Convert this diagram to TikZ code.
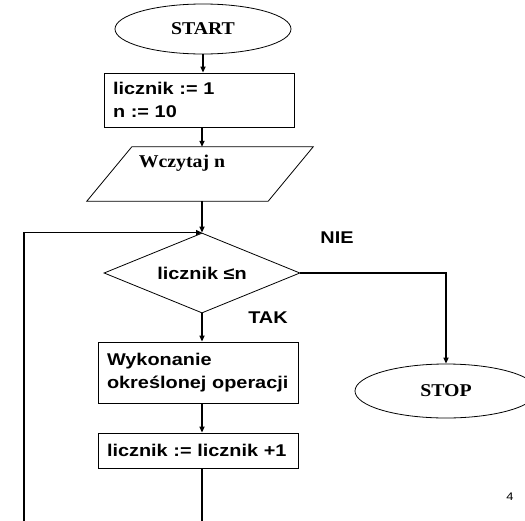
\documentclass[tikz,border=0pt]{standalone}
\usepackage{fontspec}
\newfontfamily\arialfont{Liberation Sans}[FakeStretch=1.17]
\newfontfamily\timesfont{Liberation Serif}[FakeStretch=1.1]
\usetikzlibrary{
  arrows.meta,
  shapes.geometric,
  calc
}

\begin{document}
\begin{tikzpicture}[
  x=1pt, y=-1pt,
  term/.style={
    draw, ellipse, line width=0.8pt, minimum width=176pt, minimum height=50pt,
    inner sep=0pt, font=\timesfont\bfseries\fontsize{18}{22}\selectfont,
  },
  proc/.style={
    draw, rectangle, line width=0.8pt, inner xsep=9pt, inner ysep=0pt, align=left,
    font=\arialfont\bfseries\fontsize{17}{23.5}\selectfont,
  },
  io/.style={
    rectangle, minimum width=181pt, minimum height=54pt, inner sep=0pt,
  },
  cond/.style={
    draw, diamond, shape aspect=2.45, line width=0.8pt, minimum width=196pt,
    minimum height=80pt, inner sep=0pt,
    font=\arialfont\bfseries\fontsize{17}{22}\selectfont,
  },
  lbl/.style={font=\arialfont\bfseries\fontsize{17}{22}\selectfont},
  conn/.style={line width=1.5pt},
  arr/.style={conn, -{Triangle[length=6pt,width=5pt]}},
]

% Page
\fill[white] (0,0) rectangle (525,520);
\path[use as bounding box, clip] (0,0) rectangle (525,520);

% Flow column
\node[term] (start) at (203,29) {START};
\node[proc, minimum width=190pt, minimum height=54pt, text width=172pt] (init) at (199,100)
  {licznik := 1\\n := 10};
\node[io] (read) at (200,174) {};
\draw[line width=0.8pt] ([xshift=-22.5pt]read.south west) -- ([xshift=22.5pt]read.north west)
  -- ([xshift=22.5pt]read.north east) -- ([xshift=-22.5pt]read.south east) -- cycle;
\node[font=\timesfont\bfseries\fontsize{18}{22}\selectfont] (readtxt) at (182,163) {Wczytaj n};
\node[cond] (test) at (202,273) {licznik ≤n};
\node[proc, minimum width=200pt, minimum height=61pt, text width=182pt] (oper) at (198,372.5)
  {Wykonanie\\określonej operacji};
\node[proc, minimum width=200pt, minimum height=35pt, text width=182pt] (incr) at (198,450.5)
  {licznik := licznik +1};

% Exit
\node[term, minimum width=182pt, minimum height=54pt] (stop) at (446,391) {STOP};

% Branch labels
\node[lbl] (nie) at (337,238) {NIE};
\node[lbl] (tak) at (268,318) {TAK};
\node[font=\arialfont\fontsize{11}{13}\selectfont] (page) at (510,497) {4};

% Connectors
\draw[arr] (start.south) -- (start.south |- init.north);
\draw[arr] (init.south -| test.north) -- (read.north -| test.north);
\draw[arr] (read.south -| test.north) -- (test.north);
\draw[arr] (test.south) -- (test.south |- oper.north);
\draw[arr] (oper.south -| test.south) -- (incr.north -| test.south);
\draw[arr] (test.east) -| (stop.north);

% Loop back (runs off the bottom of the page)
\coordinate (loopbl) at (24,540);
\draw[arr] (incr.south -| test.south) |- (loopbl) |- (test.north);

\end{tikzpicture}
\end{document}
